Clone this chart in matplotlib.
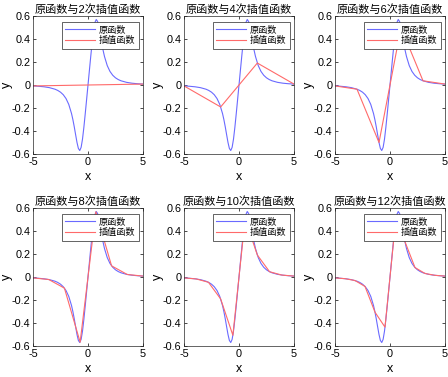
import numpy as np
import matplotlib
matplotlib.use("Agg")
from matplotlib import pyplot as plt

plt.rcParams['font.family'] = ['Liberation Sans', 'Noto Sans CJK SC']
plt.rcParams['axes.unicode_minus'] = False

x_orig = [-5.0, -4.5, -4.0, -3.5, -3.0, -2.75, -2.5, -2.25, -2.0, -1.75,
          -1.5, -1.375, -1.25, -1.125, -1.0, -0.875, -0.75, -0.625, -0.5,
          -0.375, -0.25, -0.125, 0.0, 0.125, 0.25, 0.375, 0.5, 0.625, 0.75,
          0.875, 1.0, 1.125, 1.25, 1.375, 1.5, 1.75, 2.0, 2.25, 2.5, 2.75,
          3.0, 3.5, 4.0, 4.5, 5.0]
y_orig = [-0.0080, -0.0110, -0.0156, -0.0232, -0.0366, -0.0473, -0.0624,
          -0.0845, -0.1176, -0.1686, -0.2474, -0.3006, -0.3632, -0.4324,
          -0.5000, -0.5516, -0.5697, -0.5423, -0.4706, -0.3677, -0.2490,
          -0.1250, 0.0, 0.1250, 0.2490, 0.3677, 0.4706, 0.5423, 0.5697,
          0.5516, 0.5000, 0.4324, 0.3632, 0.3006, 0.2474, 0.1686, 0.1176,
          0.0845, 0.0624, 0.0473, 0.0366, 0.0232, 0.0156, 0.0110, 0.0080]

# interpolation nodes for each case
orders = [2, 4, 6, 8, 10, 12]
node_x = [
    [-5.0, 5.0],
    [-5.0, -1.667, 1.667, 5.0],
    [-5.0, -3.0, -1.0, 1.0, 3.0, 5.0],
    [-5.0, -3.571, -2.143, -0.714, 0.714, 2.143, 3.571, 5.0],
    [-5.0, -3.889, -2.778, -1.667, -0.556, 0.556, 1.667, 2.778, 3.889, 5.0],
    [-5.0, -4.091, -3.182, -2.273, -1.364, -0.455, 0.455, 1.364, 2.273,
     3.182, 4.091, 5.0],
]
node_y = [
    [-0.008, 0.008],
    [-0.008, -0.191, 0.191, 0.008],
    [-0.008, -0.0366, -0.5, 0.5, 0.0366, 0.008],
    [-0.008, -0.0218, -0.097, -0.567, 0.567, 0.097, 0.0218, 0.008],
    [-0.008, -0.0169, -0.0459, -0.191, -0.507, 0.507, 0.191, 0.0459,
     0.0169, 0.008],
    [-0.008, -0.0146, -0.0307, -0.0821, -0.306, -0.436, 0.436, 0.306,
     0.0821, 0.0307, 0.0146, 0.008],
]

W, H = 448, 377
fig = plt.figure(figsize=(W / 100, H / 100), dpi=100)

lefts = [33, 184, 335]
tops = [16, 208]
aw, ah = 110, 138

for i in range(6):
    r, c = divmod(i, 3)
    ax = fig.add_axes([lefts[c] / W, 1 - (tops[r] + ah) / H, aw / W, ah / H])
    ax.plot(x_orig, y_orig, color='#6a6aff', lw=0.8, label='原函数')
    ax.plot(node_x[i], node_y[i], color='#ff6a6a', lw=0.8, label='插值函数')
    ax.set_xlim(-5, 5)
    ax.set_ylim(-0.6, 0.6)
    ax.set_xticks([-5, 0, 5])
    ax.set_yticks([-0.6, -0.4, -0.2, 0, 0.2, 0.4, 0.6])
    ax.set_yticklabels(['-0.6', '-0.4', '-0.2', '0', '0.2', '0.4', '0.6'])
    ax.tick_params(direction='in', length=2.5, width=0.5, labelsize=7.8,
                   top=True, right=True, pad=2)
    for s in ax.spines.values():
        s.set_linewidth(0.5)
        s.set_color('#262626')
    ax.set_xlabel('x', fontsize=9, labelpad=3)
    ax.set_ylabel('y', fontsize=9)
    ax.yaxis.set_label_coords(-0.185, 0.5)
    ax.set_title('原函数与%d次插值函数' % orders[i], fontsize=8, pad=2)
    leg = ax.legend(loc='upper right', bbox_to_anchor=(0.964, 0.957),
                    borderaxespad=0, fontsize=6.6, handlelength=3.2,
                    borderpad=0.4, labelspacing=0.15, handletextpad=0.45,
                    fancybox=False, framealpha=1)
    leg.get_frame().set_linewidth(0.5)
    leg.get_frame().set_edgecolor('#262626')

fig.savefig('out.png', dpi=100)
